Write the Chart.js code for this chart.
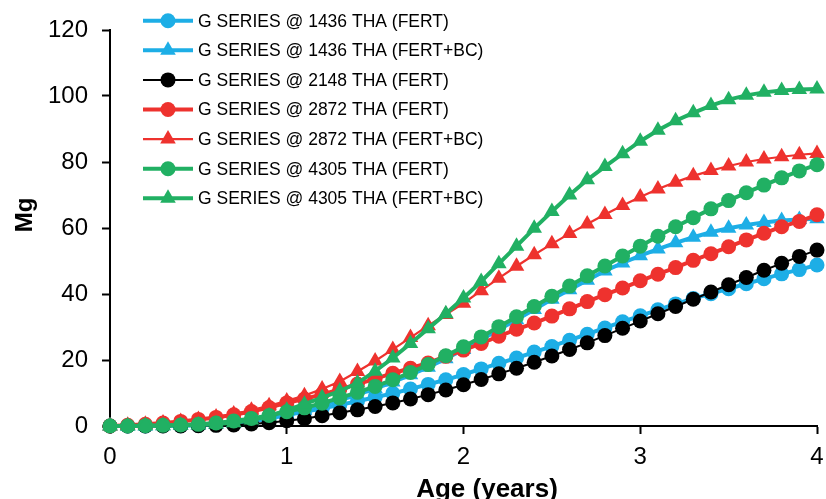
<!DOCTYPE html>
<html>
<head>
<meta charset="utf-8">
<script src="https://cdn.jsdelivr.net/npm/chart.js@4/dist/chart.umd.min.js"></script>
<style>
html,body{margin:0;padding:0;background:#fff;}
#wrap{position:relative;width:826px;height:499px;}
</style>
</head>
<body>
<div id="wrap"><canvas id="c" width="826" height="499"></canvas></div>
<script>
const ages = [0,0.1,0.2,0.3,0.4,0.5,0.6,0.7,0.8,0.9,1,1.1,1.2,1.3,1.4,1.5,1.6,1.7,1.8,1.9,2,2.1,2.2,2.3,2.4,2.5,2.6,2.7,2.8,2.9,3,3.1,3.2,3.3,3.4,3.5,3.6,3.7,3.8,3.9,4];
const seriesNames = [
  "G SERIES @ 1436 THA (FERT)",
  "G SERIES @ 1436 THA (FERT+BC)",
  "G SERIES @ 2148 THA (FERT)",
  "G SERIES @ 2872 THA (FERT)",
  "G SERIES @ 2872 THA (FERT+BC)",
  "G SERIES @ 4305 THA (FERT)",
  "G SERIES @ 4305 THA (FERT+BC)"
];
const g1436Fert = [0,0,0,0.1,0.1,0.2,0.4,0.8,1.4,2.3,3.3,4.3,5.3,6.4,7.5,8.7,9.9,11.2,12.6,14,15.6,17.3,19,20.6,22.4,24.1,26,27.8,29.7,31.6,33.4,35.2,37,38.6,40.1,41.6,43.1,44.6,46.1,47.4,48.8];
const g1436FertBC = [0,0,0,0.1,0.2,0.3,0.5,0.9,1.5,2.4,3.5,4.8,6.2,7.8,9.5,11.3,13.3,15.5,17.8,20.4,23.2,26.1,29.2,32.2,35.3,38.4,41.3,44.2,47,49.4,51.6,53.6,55.5,57.2,58.7,59.9,60.9,61.7,62.3,62.6,62.8];
const g2148Fert = [0,0,0,0,0,0.1,0.2,0.3,0.6,1.0,1.6,2.2,3.1,4.0,4.9,5.9,7.0,8.2,9.5,10.9,12.5,14.1,15.8,17.5,19.3,21.2,23.2,25.2,27.4,29.6,31.8,34,36.2,38.4,40.6,42.8,45,47.2,49.3,51.4,53.3];
const g2872Fert = [0,0.2,0.5,0.9,1.4,2.0,2.6,3.4,4.4,5.6,7.0,8.2,9.6,11.1,12.7,14.3,16,17.5,19.1,21.1,23,25,27.2,29.3,31.2,33.3,35.5,37.7,39.8,41.8,44,46,48,50.2,52.2,54.3,56.4,58.4,60.4,62,64];
const g2872FertBC = [0,0.2,0.5,0.9,1.4,2.0,2.7,3.6,4.8,6.1,7.6,9.2,11.2,13.5,16.5,19.7,23.2,26.8,30.4,33.8,37.2,41,44.8,48.4,51.9,55.2,58.3,61.2,64.1,66.8,69.4,71.8,73.9,75.8,77.4,78.8,80,80.9,81.6,82.2,82.6];
const g4305Fert = [0,0,0.1,0.2,0.3,0.5,0.9,1.5,2.3,3.2,4.3,5.5,6.9,8.5,10.2,12,14,16.2,18.6,21.3,24,27,30.1,33.1,36.2,39.3,42.4,45.5,48.5,51.5,54.5,57.5,60.4,63.1,65.8,68.3,70.7,73,75.2,77.3,79.2];
const g4305FertBC = [0,0,0.1,0.1,0.2,0.3,0.6,1.0,1.8,3.0,4.8,6.6,8.6,10.6,13,16.6,20.6,25,29.5,34,38.8,43.8,49.2,54.5,59.9,65,70,74.6,78.6,82.5,86.3,89.6,92.5,94.9,97.1,98.9,100.2,101.1,101.7,102,102.1];
const xTicks = [0,1,2,3,4];
const yTicks = [0,20,40,60,80,100,120];
const xTitle = 'Age (years)';
const yTitle = 'Mg';

const FONT = '"Liberation Sans", Arial, sans-serif';
const BLUE = '#1DAEE6', GREEN = '#21B063', RED = '#EE322E', BLACK = '#000000';
const seriesValues = [g1436Fert, g1436FertBC, g2148Fert, g2872Fert, g2872FertBC, g4305Fert, g4305FertBC];
const styles = [
  {c: BLUE, p: 'circle', r: 7.5, w: 4},
  {c: BLUE, p: 'triangle', r: 9, w: 4},
  {c: BLACK, p: 'circle', r: 7.5, w: 2},
  {c: RED, p: 'circle', r: 7.5, w: 4},
  {c: RED, p: 'triangle', r: 9, w: 2.2},
  {c: GREEN, p: 'circle', r: 7.5, w: 4},
  {c: GREEN, p: 'triangle', r: 9, w: 4}
];

const datasets = seriesValues.map((vals, i) => ({
  label: seriesNames[i],
  data: ages.map((a, k) => ({x: a, y: vals[k]})),
  borderColor: styles[i].c,
  backgroundColor: styles[i].c,
  pointBackgroundColor: styles[i].c,
  pointBorderColor: styles[i].c,
  pointBorderWidth: 0,
  pointStyle: styles[i].p,
  pointRadius: styles[i].r,
  pointHoverRadius: styles[i].r,
  borderWidth: styles[i].w,
  tension: 0,
  clip: false,
  order: seriesValues.length - i
}));

function marker(ctx, s, x, y) {
  ctx.fillStyle = s.c;
  ctx.beginPath();
  if (s.p === 'circle') {
    ctx.arc(x, y, s.r, 0, Math.PI * 2);
  } else {
    const r = s.r;
    ctx.moveTo(x, y - r);
    ctx.lineTo(x + Math.sin(2*Math.PI/3) * r, y - Math.cos(2*Math.PI/3) * r);
    ctx.lineTo(x + Math.sin(4*Math.PI/3) * r, y - Math.cos(4*Math.PI/3) * r);
    ctx.closePath();
  }
  ctx.fill();
}

const overlayPlugin = {
  id: 'overlay',
  afterDatasetsDraw(chart) {
    const ctx = chart.ctx;
    ctx.save();
    seriesNames.forEach((name, i) => {
      const y = 20.7 + i * 29.6;
      const s = styles[i];
      ctx.strokeStyle = s.c;
      ctx.lineWidth = s.w;
      ctx.beginPath();
      ctx.moveTo(143, y);
      ctx.lineTo(193, y);
      ctx.stroke();
      marker(ctx, s, 168, y);
      ctx.fillStyle = '#000';
      ctx.font = '17.5px ' + FONT;
      ctx.textBaseline = 'middle';
      ctx.textAlign = 'left';
      ctx.fillText(name, 198, y + 1);
    });
    // axis titles
    ctx.fillStyle = '#000';
    ctx.font = 'bold 26px ' + FONT;
    ctx.textAlign = 'center';
    ctx.textBaseline = 'alphabetic';
    ctx.fillText(xTitle, 487, 497);
    ctx.translate(32, 215);
    ctx.rotate(-Math.PI / 2);
    ctx.font = 'bold 24px ' + FONT;
    ctx.fillText(yTitle, 0, 0);
    ctx.restore();
  }
};

new Chart(document.getElementById('c'), {
  type: 'line',
  data: {datasets},
  options: {
    responsive: false,
    animation: false,
    devicePixelRatio: 1,
    layout: {padding: {top: 30, right: 0, left: 0, bottom: 0}},
    plugins: {legend: {display: false}, tooltip: {enabled: false}},
    scales: {
      x: {
        type: 'linear', min: 0, max: 4,
        afterBuildTicks: (s) => { s.ticks = xTicks.map(v => ({value: v})); },
        afterFit: (s) => { s.height = 73; s.paddingRight = 9; s.paddingLeft = 0; },
        grid: {drawOnChartArea: false, drawTicks: true, tickLength: 8, tickWidth: 2, tickColor: '#000'},
        border: {display: true, color: '#000', width: 2},
        ticks: {color: '#000', padding: 9, maxRotation: 0, font: {family: FONT, size: 24}},
        title: {display: false}
      },
      y: {
        type: 'linear', min: 0, max: 120,
        afterBuildTicks: (s) => { s.ticks = yTicks.map(v => ({value: v})); },
        afterFit: (s) => { s.width = 110; },
        grid: {drawOnChartArea: false, drawTicks: true, tickLength: 8, tickWidth: 2, tickColor: '#000'},
        border: {display: true, color: '#000', width: 2},
        ticks: {color: '#000', padding: 14, font: {family: FONT, size: 24}},
        title: {display: false}
      }
    }
  },
  plugins: [overlayPlugin]
});
</script>
</body>
</html>
